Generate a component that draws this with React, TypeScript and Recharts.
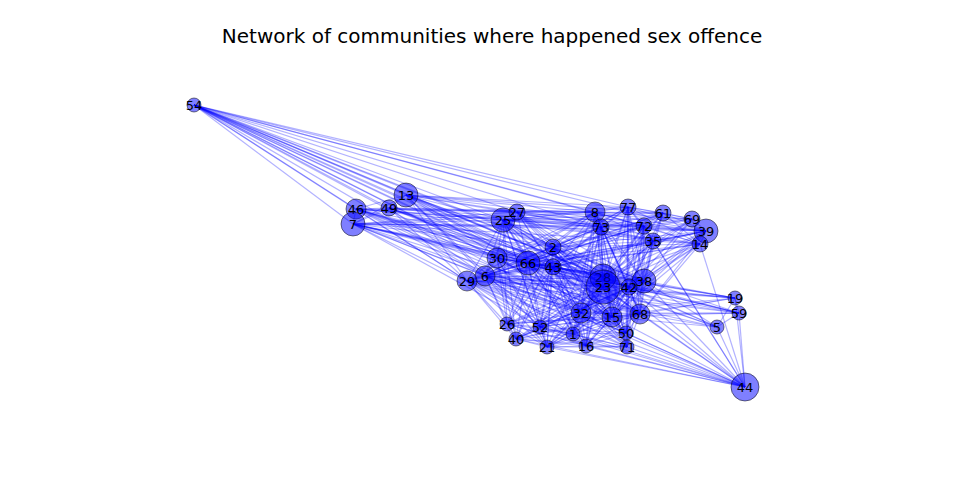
import React from 'react';
import { ScatterChart, Scatter, XAxis, YAxis } from 'recharts';

// node ids, layout positions and node sizes (radius)
const nodeIds = [54, 13, 46, 49, 7, 25, 27, 8, 77, 61, 69, 39, 14, 73, 72, 35, 2, 30, 66, 43, 6, 29, 28, 23, 38, 42, 19, 59, 5, 32, 15, 68, 50, 26, 52, 1, 40, 21, 16, 71, 44];
const nodeX = [194, 406, 356, 389, 353, 503, 517, 595, 628, 663, 692, 706, 700, 601, 644, 653, 553, 497, 528, 553, 485, 467, 603, 603, 644, 629, 735, 739, 717, 581, 612, 640, 626, 507, 540, 573, 516, 547, 586, 627, 745];
const nodeY = [105, 195, 209, 208, 224, 220, 212, 212, 207, 213, 219, 231, 244, 227, 226, 241, 247, 258, 263, 267, 276, 281, 277, 287, 281, 287, 298, 313, 327, 313, 317, 314, 333, 324, 327, 334, 339, 347, 346, 347, 387];
const nodeSize = [7, 12, 10, 8, 12, 12, 8, 10, 8, 8, 8, 12, 8, 8, 8, 8, 8, 10, 12, 8, 10, 10, 13, 17, 12, 8, 7, 7, 7, 10, 10, 10, 7, 7, 7, 7, 7, 7, 7, 7, 14];

// adjacency: node -> neighbours
const adjacency: [number, string][] = [
  [54, '13 46 7 49 25 27 8 73 77 2 30 66 43 6 29 28 23 42 38 32 15 68 39 72'],
  [13, '46 49 7 25 27 8 73 77 61 2 66 43 6 29 28 23 38 42 32 15 52 39'],
  [46, '49 7 25 27 8 73 2 30 66 43 6 29 28 23 38 42 68 15 32 39 14'],
  [49, '7 25 27 8 66 43 6 29 28 23 38 42 72'],
  [7, '25 27 8 73 72 2 30 66 43 6 29 28 23 38 42 15 32 68 52 39 35'],
  [25, '27 8 73 77 61 69 39 14 72 35 2 30 66 43 6 29 28 23 38 42 32 15 68 26 52 1 40 21 16'],
  [27, '8 73 77 61 69 39 72 35 2 66 43 6 28 23 38 42 32 15'],
  [8, '73 77 61 69 39 14 72 35 2 30 66 43 6 29 28 23 38 42 32 15 68 52 1 16'],
  [77, '73 61 69 39 14 72 35 2 66 43 28 23 38 42 15 68 50 71'],
  [61, '69 39 14 72 35 73 28 23 38 42 66 43 6'],
  [69, '39 14 72 35 73 28 23 38 42 2'],
  [39, '14 72 35 73 28 23 38 42 66 43 2 6 29 15 68'],
  [14, '72 35 73 28 23 38 42 66 43 2 6 15 68 44'],
  [73, '72 35 2 30 66 43 6 29 28 23 38 42 32 15 68 50 1 16 71 52 21'],
  [72, '35 2 66 43 6 29 28 23 38 42 32 15 68 50 71 44'],
  [35, '2 66 43 6 28 23 38 42 32 15 68 50 44'],
  [2, '30 66 43 6 29 28 23 38 42 32 15 68 26 52 1 40 21 16 50 71'],
  [30, '66 43 6 29 28 23 38 42 32 15 26 52 40 21'],
  [66, '43 6 29 28 23 38 42 32 15 68 26 52 1 40 21 16 50 71 19 59 5'],
  [43, '6 29 28 23 38 42 32 15 68 26 52 1 40 21 16 50 71 19 59'],
  [6, '29 28 23 38 42 32 15 68 26 52 1 40 21 16 50 71 19 59 5 44'],
  [29, '28 23 38 42 32 15 68 26 52 1 40 21 16 50 71 59 19 44'],
  [28, '23 38 42 32 15 68 50 26 52 1 40 21 16 71 19 59 5 44'],
  [23, '38 42 32 15 68 50 26 52 1 40 21 16 71 19 59 5 44'],
  [38, '42 32 15 68 50 26 52 1 40 21 16 71 19 59 5 44'],
  [42, '32 15 68 50 52 1 40 21 16 71 19 59 5 44'],
  [19, '59 5 68 15 32 44'],
  [59, '5 68 15 32 44'],
  [5, '68 15 44'],
  [32, '15 68 50 26 52 1 40 21 16 71 44'],
  [15, '68 50 26 52 1 40 21 16 71 44'],
  [68, '50 26 52 1 40 21 16 71 44'],
  [50, '52 1 16 71 44 21'],
  [26, '52 1 40 21 16 44'],
  [52, '1 40 21 16 71 44'],
  [1, '40 21 16 71 44'],
  [40, '21 16 71 44'],
  [21, '16 71 44'],
  [16, '71 44'],
  [71, '44'],
];

const nodes = nodeIds.map((id, i) => ({ id, x: nodeX[i], y: nodeY[i], r: nodeSize[i] }));
const byId: Record<number, { x: number; y: number }> = {};
nodes.forEach((n) => { byId[n.id] = n; });

const edges: [number, number][] = [];
adjacency.forEach(([a, list]) => {
  list.split(' ').forEach((b) => edges.push([a, Number(b)]));
});

const NoDot = () => <g />;

const NodeShape = (props: any) => {
  const { cx, cy, payload } = props;
  return (
    <g>
      <circle cx={cx} cy={cy} r={payload.r} fill="#0000ff" fillOpacity={0.5} stroke="#000" strokeOpacity={0.5} strokeWidth={1} />
      <text x={cx} y={cy} textAnchor="middle" dominantBaseline="central" fontFamily="DejaVu Sans" fontSize={13} fill="#000">
        {payload.id}
      </text>
    </g>
  );
};

export default function App() {
  return (
    <div style={{ position: 'absolute', left: 0, top: 0, width: 960, height: 494, background: '#fff' }}>
      <div style={{ position: 'absolute', left: 0, top: 26, width: 984, textAlign: 'center', fontFamily: 'DejaVu Sans', fontSize: 20, lineHeight: '20px', color: '#000' }}>
        Network of communities where happened sex offence
      </div>
      <ScatterChart width={960} height={494} margin={{ top: 59, right: 96, bottom: 54, left: 120 }}>
        <XAxis type="number" dataKey="x" domain={[120, 864]} hide />
        <YAxis type="number" dataKey="y" domain={[59, 440]} reversed hide />
        {edges.map(([a, b], i) => (
          <Scatter
            key={i}
            data={[byId[a], byId[b]]}
            line={{ stroke: '#0000ff', strokeOpacity: 0.3, strokeWidth: 1.2 }}
            shape={<NoDot />}
            isAnimationActive={false}
          />
        ))}
        <Scatter data={nodes} shape={<NodeShape />} isAnimationActive={false} />
      </ScatterChart>
    </div>
  );
}
